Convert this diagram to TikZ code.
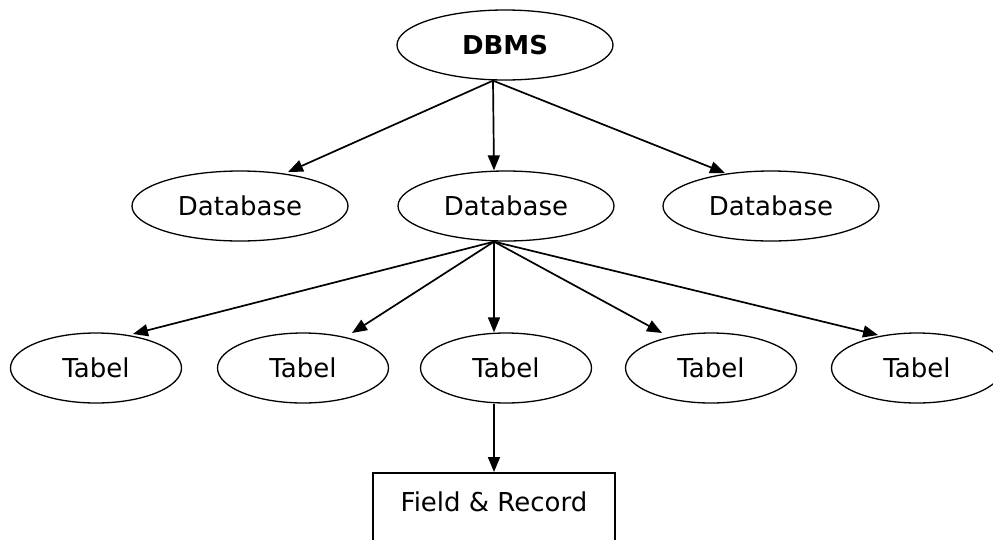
\documentclass[tikz,border=0pt]{standalone}
\usepackage{fontspec}
\setmainfont{DejaVu Sans}
\usetikzlibrary{shapes.geometric,arrows.meta,calc}
\begin{document}
\begin{tikzpicture}[x=1pt,y=-1pt,
  ell/.style={ellipse,draw,line width=1.3pt,inner sep=0pt,font=\fontsize{26}{30}\selectfont},
  dbell/.style={ell,minimum width=216pt,minimum height=70pt},
  tbell/.style={ell,minimum width=171pt,minimum height=70pt},
  boxnode/.style={draw,line width=2pt,anchor=north,inner sep=0pt,minimum width=242pt,text height=38pt,text depth=60pt,font=\fontsize{26}{30}\selectfont},
  conn/.style={line width=1.7pt,-{Triangle[length=15pt,width=12pt]}}]
\useasboundingbox (0,0) rectangle (993,539);
\clip (0,0) rectangle (993,539);
\node[dbell,font=\fontsize{26}{30}\selectfont\bfseries] (dbms) at (505,45) {DBMS};
\node[dbell] (db1) at (240,206) {Database};
\node[dbell] (db2) at (506,206) {Database};
\node[dbell] (db3) at (771,206) {Database};
\node[tbell] (t1) at (96,368) {Tabel};
\node[tbell] (t2) at (303,368) {Tabel};
\node[tbell] (t3) at (506,368) {Tabel};
\node[tbell] (t4) at (711,368) {Tabel};
\node[tbell] (t5) at (917,368) {Tabel};
\node[boxnode] (fr) at (494,472) {Field \& Record};
\draw[conn] ([xshift=-12pt]dbms.south) -- ($(db1.center)+(48,-34)$);
\draw[conn] ([xshift=-12pt]dbms.south) -- ([xshift=-12pt]db2.north);
\draw[conn] ([xshift=-12pt]dbms.south) -- ($(db3.center)+(-46,-33)$);
\draw[conn] ([xshift=-12pt]db2.south) -- ($(t1.center)+(37,-34)$);
\draw[conn] ([xshift=-12pt]db2.south) -- ($(t2.center)+(49,-35)$);
\draw[conn] ([xshift=-12pt]db2.south) -- ([xshift=-12pt]t3.north);
\draw[conn] ([xshift=-12pt]db2.south) -- ($(t4.center)+(-49,-35)$);
\draw[conn] ([xshift=-12pt]db2.south) -- ($(t5.center)+(-39,-33)$);
\draw[conn] ([xshift=-12pt]t3.south) -- (fr.north);
\end{tikzpicture}
\end{document}
